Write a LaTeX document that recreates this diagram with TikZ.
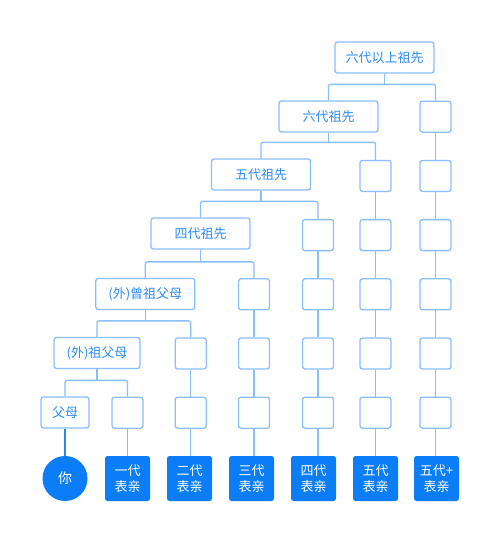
\documentclass[tikz,border=0pt]{standalone}
\usepackage{fontspec}
\newfontfamily\cjk{Noto Sans CJK SC}
\definecolor{lineblue}{HTML}{88BEFB}
\definecolor{textblue}{HTML}{2C8CF4}
\definecolor{fillblue}{HTML}{0A7DF7}
\definecolor{youline}{HTML}{2A86EC}
\begin{document}
\begin{tikzpicture}[x=1pt,y=-1pt,
    box/.style={draw=lineblue,line width=1.3pt,rounded corners=2.5pt,fill=white,text=textblue,
      font=\cjk\fontsize{13}{15}\selectfont,minimum width=99pt,minimum height=31pt,inner sep=0pt},
    ebox/.style={box,minimum width=31pt},
    cousin/.style={fill=fillblue,rounded corners=2.5pt,text=white,minimum width=45pt,minimum height=45pt,
      align=center,font=\cjk\fontsize{13}{16}\selectfont,inner sep=0pt},
    link/.style={draw=lineblue,line width=1.3pt,rounded corners=2pt}]
    \useasboundingbox (0,0) rectangle (500,543);
    % ancestors
    \node[box] (a6) at (384.5,57.5) {六代以上祖先};
    \node[box] (a5) at (328.5,116.5) {六代祖先};
    \node[box] (a4) at (261,174.5) {五代祖先};
    \node[box] (a3) at (200.5,233.5) {四代祖先};
    \node[box] (a2) at (145.3,294) {(外)曾祖父母};
    \node[box,minimum width=86pt] (a1) at (97,353) {(外)祖父母};
    \node[box,minimum width=48pt] (p) at (65,412.5) {父母};
    \node[circle,fill=fillblue,text=white,minimum size=45pt,inner sep=0pt,font=\cjk\fontsize{14}{16}\selectfont] (you) at (65,478.5) {你};
    % cousins
    \node[cousin] (e28) at (127.5,478.5) {一代\\表亲};
    \node[cousin] (e38) at (189.5,478.5) {二代\\表亲};
    \node[cousin] (e48) at (251.5,478.5) {三代\\表亲};
    \node[cousin] (e58) at (313.5,478.5) {四代\\表亲};
    \node[cousin] (e68) at (375.5,478.5) {五代\\表亲};
    \node[cousin] (e78) at (436.5,478.5) {五代+\\表亲};
    % empty boxes and column lines
    \foreach \c/\x/\top in {2/127.5/7,3/190.7/6,4/254/5,5/318/4,6/375.5/3,7/435.5/2} {
        \foreach \r in {\top,...,7} {
            \pgfmathsetmacro\y{57.5+59.2*(\r-1)}
            \node[ebox] (e\c\r) at (\x,\y) {};
        }
        \foreach \r in {\top,...,7} {
            \pgfmathtruncatemacro\s{\r+1}
            \draw[link] (e\c\r.south) -- (e\c\r.south |- e\c\s.north);
        }
    }
    % branches
    \foreach \up/\lf/\rt in {a6/a5/e72,a5/a4/e63,a4/a3/e54,a3/a2/e45,a2/a1/e36,a1/p/e27} {
        \draw[link] (\lf.north) -- ++(0,-16) coordinate (j\up) -| (\rt.north);
        \draw[link] (\up.south) -- (\up.south |- j\up);
    }
    \draw[draw=youline,line width=1.3pt] (p.south) -- (you.north);
\end{tikzpicture}
\end{document}
